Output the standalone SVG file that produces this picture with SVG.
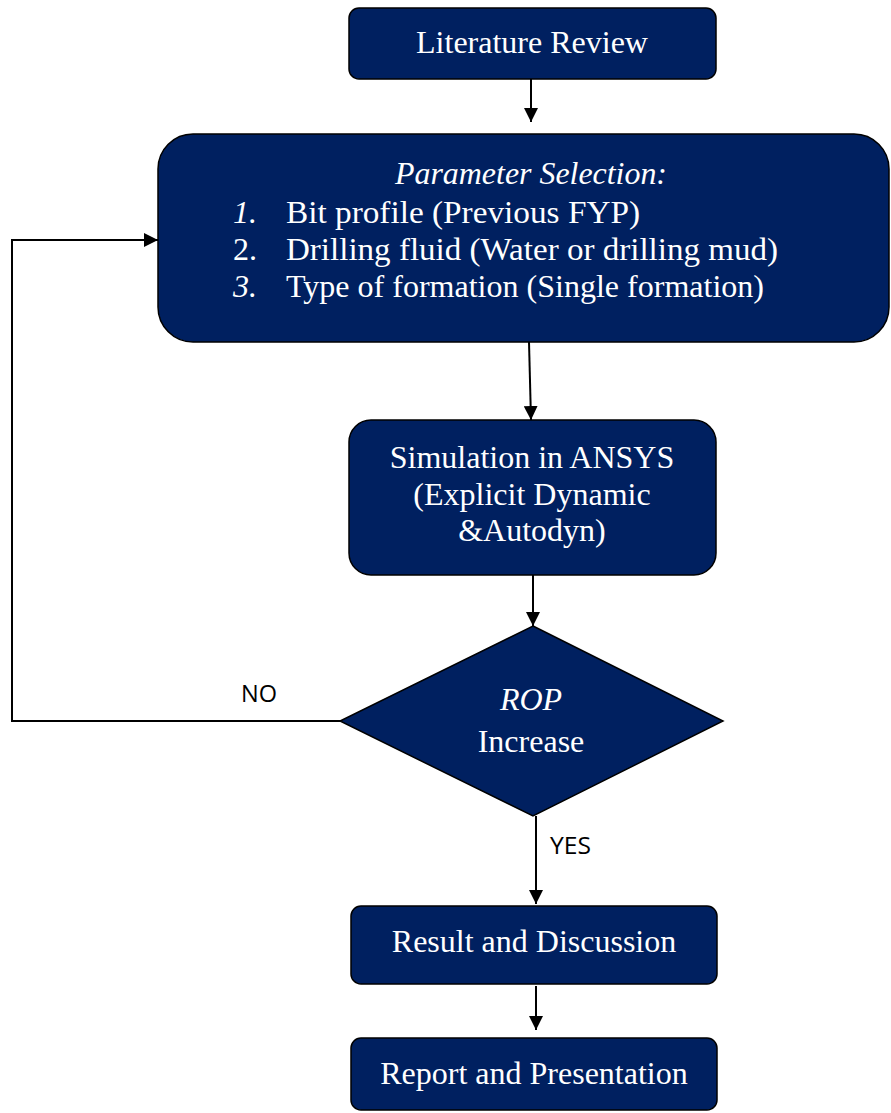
<svg xmlns="http://www.w3.org/2000/svg" width="891" height="1113" viewBox="0 0 891 1113">
<defs>
<style>
.box{fill:#002060;stroke:#000;stroke-width:1.5}
.t{font-family:"Liberation Serif","Times New Roman",serif;font-size:32px;fill:#fff}
.i{font-style:italic}
.lbl{font-family:"Open Sans","Liberation Sans",sans-serif;font-size:23px;fill:#000}
.c{fill:none;stroke:#000;stroke-width:2}
</style>
<marker id="ah2" viewBox="0 0 10 10" refX="10" refY="5" markerWidth="14" markerHeight="14" markerUnits="userSpaceOnUse" orient="auto">
<path d="M0,0 L10,5 L0,10 z" fill="#000"/>
</marker>
</defs>
<g id="connectors">
<line class="c" x1="531" y1="79" x2="531" y2="122" marker-end="url(#ah2)"/>
<line class="c" x1="529" y1="342" x2="531" y2="420" marker-end="url(#ah2)"/>
<line class="c" x1="533" y1="575" x2="533" y2="626" marker-end="url(#ah2)"/>
<polyline class="c" points="340,721 12,721 12,240 158,240" marker-end="url(#ah2)"/>
<line class="c" x1="536" y1="816" x2="536" y2="904" marker-end="url(#ah2)"/>
<line class="c" x1="536" y1="986" x2="536" y2="1030" marker-end="url(#ah2)"/>
<text class="lbl" x="241" y="702" textLength="36" lengthAdjust="spacingAndGlyphs">NO</text>
<text class="lbl" x="550" y="854" textLength="41" lengthAdjust="spacingAndGlyphs">YES</text>
</g>
<g id="literature">
<rect class="box" x="349" y="8" width="367" height="71" rx="10"/>
<text class="t" x="532" y="53" text-anchor="middle">Literature Review</text>
</g>
<g id="parameter">
<rect class="box" x="158" y="134" width="731" height="208" rx="35"/>
<text class="t i" x="531" y="184" text-anchor="middle" textLength="272" lengthAdjust="spacingAndGlyphs">Parameter Selection:</text>
<text class="t i" x="233" y="223">1.</text>
<text class="t" x="286" y="223" textLength="354" lengthAdjust="spacingAndGlyphs">Bit profile (Previous FYP)</text>
<text class="t" x="233" y="260">2.</text>
<text class="t" x="286" y="260" textLength="492" lengthAdjust="spacingAndGlyphs">Drilling fluid (Water or drilling mud)</text>
<text class="t i" x="233" y="297">3.</text>
<text class="t" x="286" y="297" textLength="478" lengthAdjust="spacingAndGlyphs">Type of formation (Single formation)</text>
</g>
<g id="simulation">
<rect class="box" x="349" y="420" width="367" height="155" rx="22"/>
<text class="t" x="532" y="468" text-anchor="middle">Simulation in ANSYS</text>
<text class="t" x="532" y="505" text-anchor="middle">(Explicit Dynamic</text>
<text class="t" x="532" y="541" text-anchor="middle">&amp;Autodyn)</text>
</g>
<g id="decision">
<polygon class="box" points="533,626 723,721 533,816 340,721"/>
<text class="t i" x="531" y="710" text-anchor="middle">ROP</text>
<text class="t" x="531" y="752" text-anchor="middle">Increase</text>
</g>
<g id="result">
<rect class="box" x="351" y="906" width="366" height="78" rx="10"/>
<text class="t" x="534" y="952" text-anchor="middle">Result and Discussion</text>
</g>
<g id="report">
<rect class="box" x="351" y="1038" width="366" height="72" rx="10"/>
<text class="t" x="534" y="1084" text-anchor="middle">Report and Presentation</text>
</g>
</svg>
